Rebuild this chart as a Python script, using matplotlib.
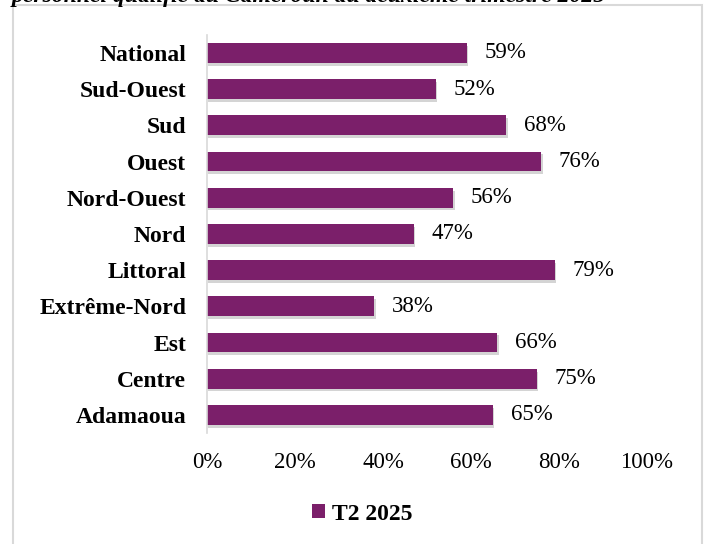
import matplotlib.pyplot as plt
import matplotlib.patheffects as pe
from matplotlib.patches import Rectangle, Patch
from matplotlib.ticker import FuncFormatter

plt.rcParams['font.family'] = ['Liberation Serif', 'DejaVu Serif']

regions = ["Adamaoua", "Centre", "Est", "Extrême-Nord", "Littoral", "Nord",
           "Nord-Ouest", "Ouest", "Sud", "Sud-Ouest", "National"]
t2_2025 = [65, 75, 66, 38, 79, 47, 56, 76, 68, 52, 59]

bar_color = "#7B1F6A"

fig = plt.figure(figsize=(7.04, 5.44), dpi=100)
ax = fig.add_axes([0.294, 0.204, 0.625, 0.732])

bars = ax.barh(range(len(regions)), t2_2025, height=0.55, color=bar_color)
for b in bars:
    b.set_path_effects([pe.SimplePatchShadow(offset=(1, -2), shadow_rgbFace="#a0a0a0", alpha=0.45),
                        pe.Normal()])

for i, v in enumerate(t2_2025):
    ax.text(v + 4, i, f"{v}%", va="center", ha="left", fontsize=16.5)

ax.set_xlim(0, 100)
ax.set_ylim(-0.5, len(regions) - 0.5)
ax.set_xticks(range(0, 101, 20))
ax.xaxis.set_major_formatter(FuncFormatter(lambda x, _: f"{int(x)}%"))
ax.set_yticks(range(len(regions)))
ax.set_yticklabels(regions, fontweight="bold", fontsize=17)
ax.tick_params(axis="x", length=0, labelsize=16.5, pad=14)
ax.tick_params(axis="y", length=0, pad=15)

for side in ["top", "right", "bottom"]:
    ax.spines[side].set_visible(False)
ax.spines["left"].set_color("#d9d9d9")
ax.spines["left"].set_linewidth(1.2)

handle = Patch(facecolor=bar_color, edgecolor="none")
fig.legend(handles=[handle], labels=["T2 2025"], loc="center",
           bbox_to_anchor=(0.515, 0.055), frameon=False,
           prop={"weight": "bold", "size": 17}, handlelength=0.55,
           handleheight=0.55, handletextpad=0.3)

# outer frame of the chart area
fig.patches.append(Rectangle((13 / 704, -0.01), 689 / 704, 1 - 5 / 544 + 0.01,
                             transform=fig.transFigure, fill=False,
                             edgecolor="#d9d9d9", linewidth=1.5))

fig.text(12 / 704, 1 - 2 / 544, "personnel qualifié au Cameroun au deuxième trimestre 2025",
         fontsize=17, fontweight="bold", fontstyle="italic", va="baseline", ha="left")

fig.savefig("out.png", dpi=100)
